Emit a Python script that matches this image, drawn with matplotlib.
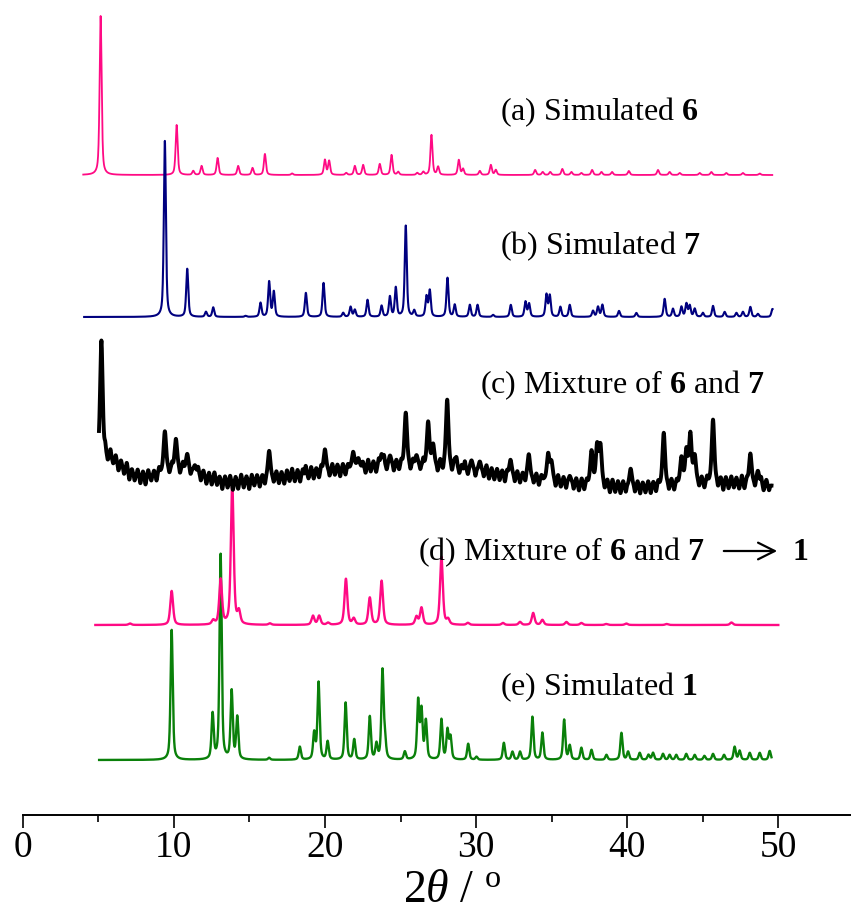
import numpy as np
import matplotlib.pyplot as plt

plt.rcParams['font.family'] = 'Liberation Serif'
plt.rcParams['mathtext.fontset'] = 'custom'
plt.rcParams['mathtext.rm'] = 'Liberation Serif'
plt.rcParams['mathtext.it'] = 'Liberation Serif:italic'
plt.rcParams['mathtext.bf'] = 'Liberation Serif:bold'

# peak positions (2theta, deg) and heights for each pattern
a_pos = [5.15, 10.18, 11.28, 11.83, 12.89, 14.25, 15.2, 16.02, 17.82, 19.99, 20.27, 21.4, 21.97, 22.52,
         23.62, 24.4, 24.84, 26.1, 26.5, 27.04, 27.48, 28.85, 29.13, 30.24, 30.97, 31.3, 33.9, 34.4,
         34.9, 35.7, 36.3, 36.96, 37.67, 38.29, 38.99, 40.1, 42.03, 42.8, 43.47, 44.79, 45.56, 46.55,
         47.65, 48.76]
a_int = [159, 50, 4, 9, 17, 9, 7, 21, 1.5, 15, 14, 2, 9, 10,
         11, 20, 3, 2, 3, 40, 8, 15, 6, 4, 10, 5, 5, 3,
         3, 6, 3, 2, 5, 3, 3, 4, 5, 3, 2, 2, 3, 2,
         2, 1.5]

b_pos = [9.40, 10.88, 12.12, 12.6, 14.74, 15.73, 16.3, 16.61, 18.73, 19.9, 21.2, 21.69, 21.97, 22.81,
         23.74, 24.29, 24.68, 25.34, 25.9, 26.71, 26.93, 28.1, 28.58, 29.58, 30.09, 31.12, 32.29,
         33.26, 33.5, 34.65, 34.87, 35.57, 36.19, 37.73, 38.06, 38.35, 39.45, 40.6, 42.47, 43.02,
         43.58, 43.91, 44.13, 44.46, 45.0, 45.67, 46.44, 47.22, 47.65, 48.14, 48.64, 49.6]
b_int = [176, 48, 5, 9.5, 1, 14, 35, 25, 24, 34, 4, 10, 7, 17,
         11, 20, 29, 91, 6, 20, 26, 39, 12, 12, 12, 2, 12,
         15, 13, 22, 21, 10, 12, 6, 10, 12, 6, 4, 18, 8,
         10, 13, 11, 8, 4, 11, 5, 4, 5, 10, 3, 8]

c_pos = [5.2, 9.4, 10.13, 10.88, 11.39, 16.3, 19.99, 21.86, 22.2, 23.74, 24.3, 25.34, 26.05, 26.82,
         27.15, 28.08, 28.6, 29.69, 30.24, 32.27, 33.48, 34.76, 34.98, 36.19, 37.63, 38.0, 38.22,
         40.22, 42.41, 43.58, 43.91, 44.17, 44.46, 45.67, 48.14, 48.64]
c_int = [117, 40, 30, 16, 7, 28, 22, 16, 9, 12, 10, 53, 10, 44,
         21, 68, 9, 10, 10, 16, 24, 26, 18, 7, 33, 38, 38,
         18, 53, 26, 32, 48, 26, 63, 30, 13]
# broad background humps of the measured pattern (center, height, sigma)
c_bg_level = -10
c_bg_center = [5.3, 10.2, 25.0, 46.5]
c_bg_height = [32, 18, 24, 7]
c_bg_sigma = [1.4, 1.6, 7.0, 3.0]
# counting noise of the measured pattern: (2theta, deviation)
c_noise = [
    (5.45, 7), (5.62, -5), (5.8, 8), (5.98, -4), (6.15, 6), (6.33, -7), (6.5, 5), (6.7, -6),
    (6.88, 7), (7.05, -8), (7.22, 4), (7.4, -6), (7.6, 6), (7.78, -7), (7.95, 5), (8.12, -8),
    (8.3, 6), (8.5, -5), (8.68, 4), (8.85, -7), (9.02, 5),
    (9.7, -5), (9.88, 5), (10.4, -6), (10.6, 6), (11.1, -5), (11.6, 6), (11.78, -6), (11.95, 5),
    (12.15, -7), (12.32, 5), (12.5, -6), (12.68, 7), (12.85, -5), (13.02, 4), (13.2, -8),
    (13.38, 5), (13.55, -6), (13.72, 6), (13.9, -8), (14.08, 5), (14.25, -7), (14.45, 7),
    (14.62, -6), (14.8, 5), (14.98, -8), (15.15, 6), (15.32, -5), (15.5, 5), (15.68, -7),
    (15.85, 4), (16.02, -6),
    (16.6, -5), (16.78, 6), (16.95, -6), (17.12, 5), (17.3, -7), (17.48, 6), (17.65, -5),
    (17.82, 7), (18.0, -6), (18.18, 5), (18.35, -7), (18.52, 5), (18.72, 8), (18.9, -5),
    (19.08, 6), (19.25, -6), (19.42, 4), (19.6, -6), (19.75, 5), (20.3, -6), (20.48, 6),
    (20.65, -5), (20.82, 5), (21.0, -7), (21.18, 5), (21.35, -6), (21.52, 4),
    (22.5, 5), (22.68, -6), (22.85, 7), (23.02, -5), (23.2, 5), (23.38, -6), (23.55, 6),
    (23.9, 8), (24.08, -5), (24.55, -6), (24.72, 5), (24.9, -5), (25.05, 4),
    (25.65, -6), (25.82, 5), (26.3, -5), (26.5, 6), (27.45, -6), (27.62, 6), (27.8, -5),
    (28.4, -6), (28.7, 6), (28.88, -5), (29.05, 4), (29.25, 8), (29.45, -5), (29.95, -6),
    (30.5, -5), (30.68, 7), (30.85, -6), (31.02, 5), (31.2, -6), (31.38, 5), (31.55, -6),
    (31.72, 4), (31.9, -7), (32.05, 4),
    (32.55, -6), (32.72, 5), (32.9, -6), (33.08, 4), (33.25, -5), (33.8, -5), (33.98, 5),
    (34.15, -6), (34.32, 4), (35.25, -6), (35.42, 6), (35.6, -5), (35.78, 5), (35.95, -6),
    (36.45, -6), (36.62, 5), (36.8, -7), (36.98, 5), (37.15, -6), (37.32, 4),
    (38.5, -5), (38.68, 5), (38.85, -7), (39.02, 6), (39.2, -6), (39.38, 5), (39.55, -7),
    (39.72, 5), (39.9, -6), (40.5, -6), (40.68, 5), (40.85, -7), (41.02, 4), (41.2, -6),
    (41.38, 5), (41.55, -7), (41.72, 4), (41.9, -6), (42.05, 4),
    (42.75, -6), (42.92, 5), (43.1, -6), (43.27, 4), (44.75, -5), (44.92, 5), (45.1, -6),
    (45.28, 5), (46.0, -6), (46.18, 4), (46.35, -8), (46.52, 5), (46.7, -6), (46.88, 6),
    (47.05, -5), (47.22, 5), (47.4, -6), (47.58, 7), (47.75, -6), (47.92, 4), (48.45, -5),
    (48.85, 6), (49.02, -6), (49.2, 5), (49.38, -5),
]

d_pos = [7.09, 9.85, 12.6, 13.09, 13.86, 14.3, 16.35, 19.2, 19.61, 20.2, 21.38, 21.9, 22.96, 23.74,
         26.05, 26.38, 27.7, 28.14, 29.45, 31.77, 32.9, 33.77, 34.38, 35.97, 36.96, 38.6, 39.93,
         42.6, 46.89]
d_int = [1.5, 34, 4, 45, 140, 12, 1.5, 9, 9, 2, 46, 6, 27, 44,
         8, 17, 68, 5, 2, 2, 3, 12, 5, 3, 2, 1, 1.5,
         1, 2.5]

e_pos = [9.85, 12.56, 13.09, 13.82, 14.19, 16.3, 18.33, 19.28, 19.57, 20.17, 21.36, 21.93, 22.96,
         23.4, 23.8, 23.96, 25.28, 26.16, 26.38, 26.67, 27.7, 28.1, 28.3, 29.47, 30.02, 31.83, 32.4,
         32.9, 33.72, 34.38, 35.82, 36.19, 36.96, 37.63, 38.62, 39.61, 40.05, 40.82, 41.4, 41.7,
         42.36, 42.8, 43.24, 43.9, 44.46, 45.1, 45.67, 46.4, 47.1, 47.43, 48.1, 48.76, 49.42]
e_int = [130, 45, 205, 68, 42, 2, 13, 26, 77, 18, 57, 20, 43,
         15, 88, 18, 8, 58, 48, 38, 40, 29, 22, 16, 3, 17, 8,
         8, 43, 27, 40, 14, 12, 10, 5, 27, 8, 7, 5, 7,
         6, 5, 5, 6, 5, 4, 6, 5, 13, 9, 7, 7, 9]

labels = [r'(a) Simulated $\mathbf{6}$', r'(b) Simulated $\mathbf{7}$',
          r'(c) Mixture of $\mathbf{6}$ and $\mathbf{7}$',
          r'(d) Mixture of $\mathbf{6}$ and $\mathbf{7}$', r'(e) Simulated $\mathbf{1}$']

pink, navy, green = '#ff0a84', '#00007f', '#0a800a'


def profile(x, pos, amp, fwhm, eta=0.55):
    y = np.zeros_like(x)
    for c, h in zip(pos, amp):
        d = (x - c) / (fwhm / 2)
        y += h * (eta / (1 + d ** 2) + (1 - eta) * np.exp(-np.log(2) * d ** 2))
    return y


def humps(x, centers, heights, sigmas):
    y = np.zeros_like(x)
    for c, h, s in zip(centers, heights, sigmas):
        y += h * np.exp(-(x - c) ** 2 / (2 * s ** 2))
    return y


fig = plt.figure(figsize=(8.51, 9.15), dpi=100)
ax = fig.add_axes([22.8 / 851, 100 / 915, 1 - 22.8 / 851, 815 / 915])

xa = np.arange(4.0, 49.6, 0.01)
ax.plot(xa, 640 + profile(xa, a_pos, a_int, 0.16), color=pink, lw=1.3, zorder=1)

xb = np.arange(4.06, 49.62, 0.01)
ax.plot(xb, 498 + profile(xb, b_pos, b_int, 0.16), color=navy, lw=1.5, zorder=2)

noise_pos = [p for p, _ in c_noise]
noise_amp = [v for _, v in c_noise]
xc = np.arange(5.04, 49.55, 0.01)
yc = (335 + c_bg_level + humps(xc, c_bg_center, c_bg_height, c_bg_sigma)
      + profile(xc, c_pos, c_int, 0.2)
      + humps(xc, noise_pos, noise_amp, [0.04] * len(noise_pos)))
ax.plot(xc, yc, color='black', lw=2.8, zorder=5)

xd = np.arange(4.8, 50.0, 0.01)
ax.plot(xd, 190 + profile(xd, d_pos, d_int, 0.22), color=pink, lw=1.7, zorder=4)

xe = np.arange(5.05, 49.55, 0.01)
ax.plot(xe, 55 + profile(xe, e_pos, e_int, 0.17), color=green, lw=1.7, zorder=3)

label_xy = [(31.6, 703), (31.6, 569), (30.24, 430), (26.14, 263), (31.6, 128)]
for (tx, ty), txt in zip(label_xy, labels):
    ax.text(tx, ty, txt, fontsize=23, ha='left', va='center', zorder=6)
ax.annotate('', xy=(50.1, 264), xytext=(46.2, 264),
            arrowprops=dict(arrowstyle='->', lw=1.6, color='black', mutation_scale=30))
ax.text(50.9, 263, '1', fontsize=23, fontweight='bold', ha='left', va='center')

ax.set_xlim(0, 54.8)
ax.set_ylim(0, 815)
for side in ['top', 'left', 'right']:
    ax.spines[side].set_visible(False)
ax.spines['bottom'].set_linewidth(1.4)
ax.set_yticks([])
ax.set_xticks(range(0, 51, 10))
ax.set_xticks(range(5, 50, 10), minor=True)
ax.tick_params(axis='x', which='major', direction='out', length=9, width=1.2, labelsize=27, pad=2)
ax.tick_params(axis='x', which='minor', direction='out', length=5, width=1.2)
ax.set_xlabel(r'2$\mathit{\theta}$ / $^{\mathrm{o}}$', fontsize=33)
ax.xaxis.set_label_coords(0.519, -0.067)

fig.savefig('out.png', dpi=100)
